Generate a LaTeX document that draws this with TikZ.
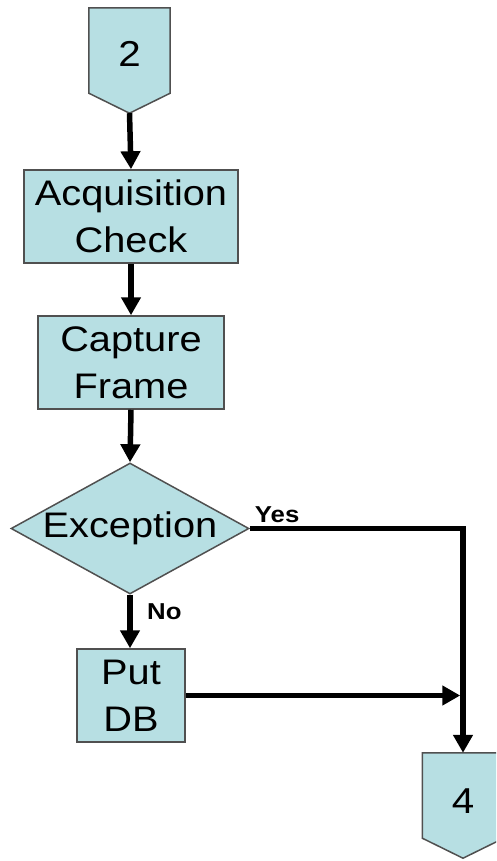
\documentclass[tikz,border=0pt]{standalone}
\usepackage{fontspec}
\setmainfont{Liberation Sans}[FakeStretch=1.12]
\usetikzlibrary{arrows.meta,calc,shapes.geometric}
\definecolor{boxfill}{HTML}{B7DFE3}
\definecolor{boxline}{HTML}{505050}

\begin{document}
\begin{tikzpicture}[x=1pt,y=-1pt,
  shapebox/.style={draw=boxline, fill=boxfill, line width=1.5pt,
    font=\fontsize{35.5}{47}\selectfont, align=center, inner sep=0pt},
  proc/.style={shapebox, rectangle, minimum height=93pt},
  decision/.style={shapebox, diamond, aspect=1.82},
  offpage/.style={inner sep=0pt, minimum width=81pt, minimum height=85pt},
  pentline/.style={draw=boxline, fill=boxfill, line width=1.5pt, line join=miter},
  numtext/.style={font=\fontsize{36}{40}\selectfont, inner sep=0pt},
  flow/.style={line width=5.5pt, -{Triangle[width=19pt,length=18pt]}},
  tag/.style={font=\bfseries\fontsize{23}{26}\selectfont, inner sep=0pt, anchor=base west}]
\useasboundingbox (0,0) rectangle (496,861);
\clip (0,0) rectangle (496,861);

% process boxes
\node[proc, minimum width=214pt] (acq) at (131,216.5) {Acquisition\\Check};
\node[proc, minimum width=186pt] (cap) at (131,362.5) {Capture\\Frame};
\node[decision, minimum width=238pt, minimum height=131pt] (exc) at (130,528.5) {Exception};
\node[proc, minimum width=108pt] (put) at (131,695.5) {Put\\DB};

% off-page connectors
\node[offpage] (c2) at (129.5,50.5) {};
\draw[pentline] (c2.north west) -- (c2.north east) -- (c2.south east)
  -- ($(c2.south)+(0,20)$) coordinate (c2tip) -- (c2.south west) -- cycle;
\node[numtext] (n2) at ($(c2)+(0,3)$) {2};

\node[offpage] (c4) at (463,795.5) {};
\draw[pentline] (c4.north west) -- (c4.north east) -- (c4.south east)
  -- ($(c4.south)+(0,20)$) -- (c4.south west) -- cycle;
\node[numtext] (n4) at ($(c4)+(0,6)$) {4};

% connectors
\draw[flow] (c2tip) -- (acq.north);
\draw[flow] (acq.south) -- (cap.north);
\draw[flow] (cap.south) -- (exc.north);
\draw[flow] (exc.south) -- (exc.south |- put.north);
\draw[flow] (exc.east) -| (c4.north);
\draw[flow, shorten >=2.75pt] (put.east) -- (put.east -| c4.north);

% branch labels
\node[tag] (yes) at ($(exc.east)+(5,-6)$) {Yes};
\node[tag] (no) at ($(exc.south)+(17,25)$) {No};
\end{tikzpicture}
\end{document}
